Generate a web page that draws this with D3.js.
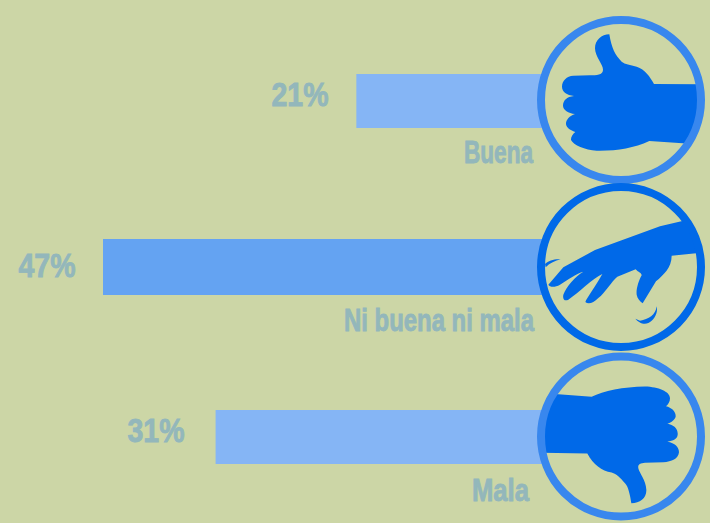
<!DOCTYPE html>
<html><head><meta charset="utf-8">
<script src="https://d3js.org/d3.v7.min.js"></script>
<style>html,body{margin:0;padding:0;background:#ccd6a6;overflow:hidden}svg{display:block}</style>
</head><body><svg id="c" width="710" height="523"></svg>
<script>
const categories = ["Buena", "Ni buena ni mala", "Mala"];
const percentLabels = ["21%", "47%", "31%"];
// Drawn bar lengths: the original's bars are not proportional to its printed labels.
const barLengths = [20, 47, 35];

// Icon outlines, in a local glyph space (3 units = 1 px).
const thumbUp = "M238 73C215 73 195 90 195 115C195 140 220 165 219 180C218 195 200 196 180 196L130 197C110 198 96 212 96 230C96 245 110 255 132 258C110 260 99 272 99 287C99 300 115 310 135 312C118 318 107 330 108 343C110 355 125 363 136 366C128 372 122 382 123 390C130 405 165 420 200 422C260 423 310 415 358 393L480 401L525 300L515 223L372 222C360 200 345 178 320 170C300 164 285 163 275 155C255 135 245 115 238 73Z";
const flatHand = "M470 126L390 145L195 216L100 268L55 320C60 328 75 328 90 320C115 305 140 285 160 281C135 295 110 325 100 350C97 365 105 370 115 365C145 345 190 300 217 288C200 320 170 360 166 372C175 380 190 375 205 360C225 345 245 310 262 296L317 274C325 283 335 285 335 292C325 310 318 335 320 350C322 362 330 370 338 376L378 310C400 290 425 270 425 233L515 224L525 190ZM45 258C55 248 75 242 92 244C75 248 60 255 47 268ZM380 385C378 410 355 425 330 428L316 422C325 432 340 442 355 435C372 428 385 405 380 385Z";
const thumbDown = "M65 137L185 146C220 128 280 116 345 115C385 116 420 130 420 150C420 160 415 168 408 174C425 178 438 190 437 205C435 215 425 222 412 227C432 230 445 243 443 260C442 272 430 278 412 281C435 284 447 298 447 312C445 332 425 340 400 342L345 344C330 345 323 350 325 360C328 375 348 395 349 425C350 450 330 465 304 465C300 440 295 415 285 405C270 388 260 378 245 373C215 368 190 350 172 316L35 314L30 220Z";
const icons = [thumbUp, flatHand, thumbDown];
const iconOrigins = [[273,270],[273,267],[273,265]];

const svg = d3.select("#c");
const x = d3.scaleLinear().domain([0, 47]).range([544, 103]);
const yBar = d3.scaleOrdinal().domain(categories).range([101, 267, 437]);
const yRing = d3.scaleOrdinal().domain(categories).range([100, 267, 436.5]);
const barH = d3.scaleOrdinal().domain(categories).range([54, 56, 54]);
const barColor = d3.scaleOrdinal().domain(categories).range(["#85b5f5", "#64a3f2", "#85b5f5"]);
const ringColor = d3.scaleOrdinal().domain(categories).range(["#3887ee", "#0069e8", "#3887ee"]);
const pctBaseline = d3.scaleOrdinal().domain(categories).range([106, 277, 442]);
const pctRight = d3.scaleOrdinal().domain(categories).range([328.5, 75.5, 184.5]);
const catBaseline = d3.scaleOrdinal().domain(categories).range([163, 331, 501]);
const catRight = d3.scaleOrdinal().domain(categories).range([533, 534, 529]);
const catWidth = d3.scaleOrdinal().domain(categories).range([69, 190, 57]);
const textCol = "#93b7bb";
const font = "'Liberation Sans Narrow','Liberation Sans',sans-serif";

const rows = categories.map((c,i)=>({c, i, len:barLengths[i], pct:percentLabels[i]}));

svg.append("defs").selectAll("clipPath").data(rows).join("clipPath")
  .attr("id", d=>"clip"+d.i)
  .append("circle").attr("cx",621).attr("cy",d=>yRing(d.c)).attr("r",80);

svg.selectAll("rect.bar").data(rows).join("rect").attr("class","bar")
  .attr("x", d=>x(d.len)).attr("width", d=>x(0)-x(d.len))
  .attr("y", d=>yBar(d.c)-barH(d.c)/2).attr("height", d=>barH(d.c))
  .attr("fill", d=>barColor(d.c));

svg.selectAll("text.pct").data(rows).join("text").attr("class","pct")
  .attr("x", d=>pctRight(d.c)-57).attr("y", d=>pctBaseline(d.c))
  .attr("font-family",font).attr("font-weight",700)
  .attr("font-size",34).attr("fill",textCol)
  .attr("stroke",textCol).attr("stroke-width",0.9)
  .attr("textLength",57).attr("lengthAdjust","spacingAndGlyphs")
  .text(d=>d.pct);

svg.selectAll("text.cat").data(rows).join("text").attr("class","cat")
  .attr("x", d=>catRight(d.c)-catWidth(d.c)).attr("y", d=>catBaseline(d.c))
  .attr("font-family",font).attr("font-weight",700)
  .attr("font-size",32).attr("fill",textCol)
  .attr("stroke",textCol).attr("stroke-width",0.9)
  .attr("textLength",d=>catWidth(d.c)).attr("lengthAdjust","spacingAndGlyphs")
  .text(d=>d.c);

svg.selectAll("g.icon").data(rows).join("g").attr("class","icon")
  .attr("clip-path", d=>`url(#clip${d.i})`)
  .append("path")
  .attr("d", d=>icons[d.i]).attr("fill","#0069e8")
  .attr("transform", d=>`translate(621,${yRing(d.c)}) scale(${1/3}) translate(${-iconOrigins[d.i][0]},${-iconOrigins[d.i][1]})`);

svg.selectAll("circle.ring").data(rows).join("circle").attr("class","ring")
  .attr("cx",621).attr("cy",d=>yRing(d.c)).attr("r",80)
  .attr("fill","none").attr("stroke",d=>ringColor(d.c)).attr("stroke-width",8);
</script></body></html>
